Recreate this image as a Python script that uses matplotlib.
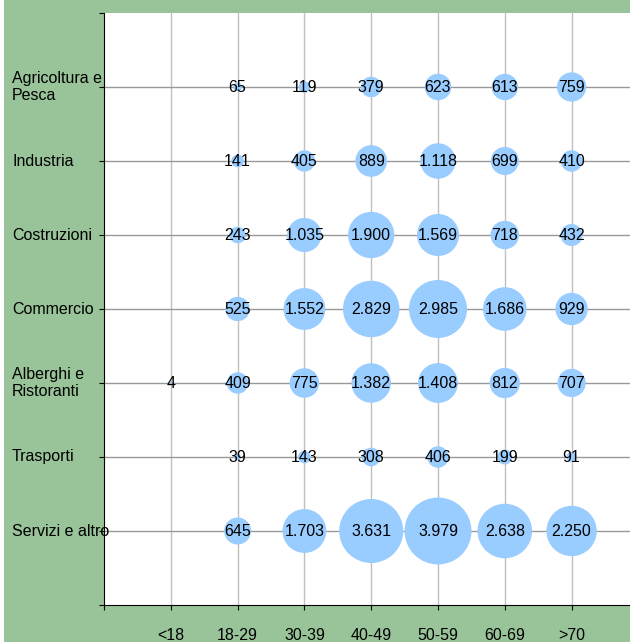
import matplotlib.pyplot as plt
from matplotlib.patches import Rectangle
from matplotlib.transforms import blended_transform_factory

plt.rcParams['font.family'] = ['Liberation Sans', 'DejaVu Sans']

ages = ["<18", "18-29", "30-39", "40-49", "50-59", "60-69", ">70"]
sectors = ["Agricoltura e\nPesca", "Industria", "Costruzioni", "Commercio",
           "Alberghi e\nRistoranti", "Trasporti", "Servizi e altro"]

# workers by sector (rows) and age class (columns); None = no value
agricoltura = [None, 65, 119, 379, 623, 613, 759]
industria = [None, 141, 405, 889, 1118, 699, 410]
costruzioni = [None, 243, 1035, 1900, 1569, 718, 432]
commercio = [None, 525, 1552, 2829, 2985, 1686, 929]
alberghi = [4, 409, 775, 1382, 1408, 812, 707]
trasporti = [None, 39, 143, 308, 406, 199, 91]
servizi = [None, 645, 1703, 3631, 3979, 2638, 2250]

rows = [agricoltura, industria, costruzioni, commercio, alberghi, trasporti, servizi]

green = "#99c499"
fig = plt.figure(figsize=(6.3, 6.42), dpi=100, facecolor=green)
fig.patches.append(Rectangle((0, 0), 4 / 630, 1, transform=fig.transFigure,
                             facecolor="white", edgecolor="none", zorder=-1))
ax = fig.add_axes([104 / 630, 37 / 642, 526 / 630, 592 / 642])
ax.set_facecolor("white")

vmax = max(v for r in rows for v in r if v is not None)
n = len(sectors)
for i, (name, vals) in enumerate(zip(sectors, rows)):
    y = n - i
    for j, v in enumerate(vals):
        if v is None:
            continue
        x = j + 1
        ax.scatter(x, y, s=v / vmax * 2324, color="#99ccff", edgecolors="none", zorder=3)
        label = f"{v:,}".replace(",", ".")
        ax.text(x, y, label, ha="center", va="center", fontsize=11.5, color="black", zorder=4)

ax.set_xlim(0, 526 / 66.8)
ax.set_ylim(0, 8)

ax.set_xticks(range(0, 8))
ax.set_xticklabels([""] + ages, fontsize=11.5)
ax.set_yticks(range(0, 9))
ax.set_yticklabels([])
ax.tick_params(axis="y", length=3.6, direction="out")
ax.tick_params(axis="x", pad=13, length=3.6, direction="out")

# sector labels, left aligned in the green band
trans = blended_transform_factory(fig.transFigure, ax.transData)
for i, name in enumerate(sectors):
    ax.text(12 / 630, n - i, name, transform=trans, ha="left", va="center",
            fontsize=11.5, clip_on=False)

for x in range(1, 8):
    ax.axvline(x, color="#c0c0c0", lw=1, zorder=1)
for y in range(1, 8):
    ax.axhline(y, color="#999999", lw=1, zorder=1)

for s in ["top", "right"]:
    ax.spines[s].set_visible(False)
ax.spines["left"].set_color("black")
ax.spines["bottom"].set_color("black")

fig.savefig("out.png", dpi=100, facecolor=green)
